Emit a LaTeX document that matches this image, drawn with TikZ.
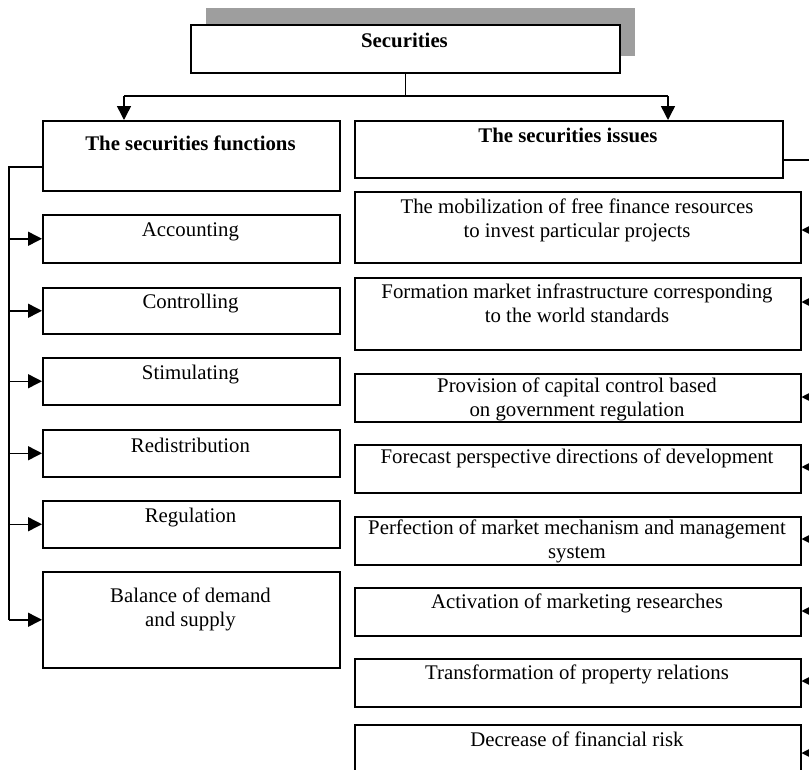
\documentclass[tikz,border=0pt]{standalone}
\usepackage{fontspec}
\setmainfont{Liberation Serif}
\usetikzlibrary{arrows.meta}
\begin{document}
\begin{tikzpicture}[x=1pt,y=-1pt,
  box/.style={draw, line width=1.5pt, fill=white, anchor=north west, inner sep=0pt},
  lbox/.style={box, minimum width=297pt},
  rbox/.style={box, minimum width=446pt},
  txt/.style={inner sep=0pt, anchor=base, align=center, font=\fontsize{20.8pt}{24pt}\selectfont},
  btxt/.style={txt, font=\fontsize{20.8pt}{24pt}\selectfont\bfseries},
  conn/.style={line width=1.5pt},
  arr/.style={conn, -{Triangle[length=14pt,width=14pt]}},
  shadowfill/.style={fill=black!38}]
\useasboundingbox (0,0) rectangle (809,769);
% top box with shadow
\fill[shadowfill] (206,8) rectangle (635,56);
\node[box, minimum width=429pt, minimum height=48pt] (sec) at (190,24) {};
\node[btxt] (secT) at (404.5,47) {Securities};
% headers
\node[lbox, minimum height=70pt] (fun) at (42,120) {};
\node[btxt] (funT) at (190.5,150) {The securities functions};
\node[box, minimum width=428pt, minimum height=57pt] (iss) at (354,120) {};
\node[btxt] (issT) at (568,142) {The securities issues};
% left column
\node[lbox, minimum height=48pt] (acc) at (42,214) {};
\node[txt] (accT) at (190.5,236) {Accounting};
\node[lbox, minimum height=46pt] (ctrl) at (42,287) {};
\node[txt] (ctrlT) at (190.5,308) {Controlling};
\node[lbox, minimum height=47pt] (stim) at (42,357) {};
\node[txt] (stimT) at (190.5,379) {Stimulating};
\node[lbox, minimum height=47pt] (redis) at (42,429) {};
\node[txt] (redisT) at (190.5,452) {Redistribution};
\node[lbox, minimum height=47pt] (reg) at (42,500) {};
\node[txt] (regT) at (190.5,522) {Regulation};
\node[lbox, minimum height=96pt] (bal) at (42,571) {};
\node[txt] (balT) at (190.5,626) {Balance of demand\\and supply};
% right column (multi-line nodes: base = last line)
\node[rbox, minimum height=71pt] (mob) at (354,191) {};
\node[txt] (mobT) at (577,237) {The mobilization of free finance resources\\to invest particular projects};
\node[rbox, minimum height=72pt] (form) at (354,277) {};
\node[txt] (formT) at (577,322) {Formation market infrastructure corresponding\\to the world standards};
\node[rbox, minimum height=48pt] (prov) at (354,373) {};
\node[txt] (provT) at (577,416) {Provision of capital control based\\on government regulation};
\node[rbox, minimum height=48pt] (fore) at (354,444) {};
\node[txt] (foreT) at (577,463) {Forecast perspective directions of development};
\node[rbox, minimum height=48pt] (perf) at (354,516) {};
\node[txt] (perfT) at (577,558) {Perfection of market mechanism and management\\system};
\node[rbox, minimum height=48pt] (act) at (354,587) {};
\node[txt] (actT) at (577,608) {Activation of marketing researches};
\node[rbox, minimum height=48pt] (trans) at (354,658) {};
\node[txt] (transT) at (577,679) {Transformation of property relations};
\node[rbox, minimum height=80pt] (dec) at (354,724) {};
\node[txt] (decT) at (577,746) {Decrease of financial risk};
% top connectors
\coordinate (hl) at (124,96);
\coordinate (hr) at (668,96);
\draw[conn] (sec.south) -- (sec.south |- hl);
\draw[conn] (hl) -- (hr);
\draw[arr] (hl) -- (hl |- fun.north);
\draw[arr] (hr) -- (hr |- iss.north);
% left connectors
\coordinate (lt) at (9,167);
\coordinate (lb) at (9,620);
\draw[conn] (fun.west |- lt) -- (lt) -- (lb);
\foreach \n in {acc,ctrl,stim,redis,reg,bal}{
  \draw[arr] (lt |- \n.west) -- (\n.west);
}
% right connectors
\coordinate (rt) at (822,160);
\coordinate (rb) at (822,800);
\draw[conn] (iss.east |- rt) -- (rt) -- (rb);
\coordinate (r1) at (822,230);
\coordinate (r2) at (822,302);
\coordinate (r3) at (822,397);
\coordinate (r4) at (822,467);
\coordinate (r5) at (822,539);
\coordinate (r6) at (822,611);
\coordinate (r7) at (822,681);
\coordinate (r8) at (822,753);
\draw[arr] (r1) -- (r1 -| mob.east);
\draw[arr] (r2) -- (r2 -| form.east);
\draw[arr] (r3) -- (r3 -| prov.east);
\draw[arr] (r4) -- (r4 -| fore.east);
\draw[arr] (r5) -- (r5 -| perf.east);
\draw[arr] (r6) -- (r6 -| act.east);
\draw[arr] (r7) -- (r7 -| trans.east);
\draw[arr] (r8) -- (r8 -| dec.east);
\end{tikzpicture}
\end{document}
